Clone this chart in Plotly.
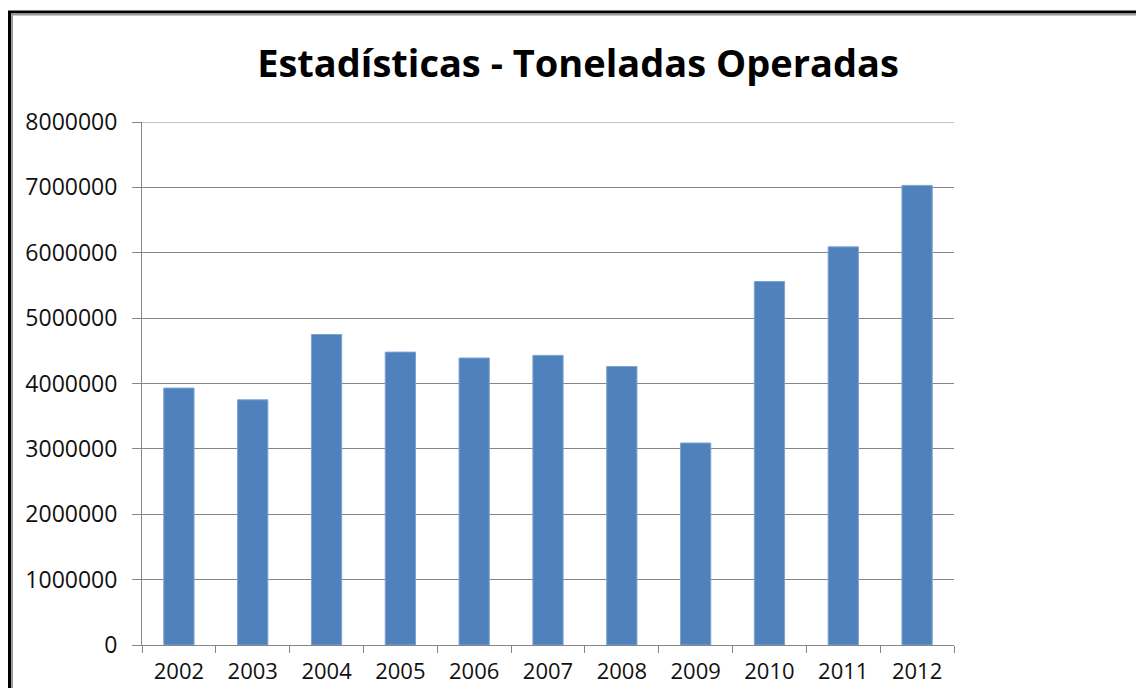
import plotly.graph_objects as go

# Toneladas operadas por año
years = ["2002", "2003", "2004", "2005", "2006", "2007", "2008", "2009", "2010", "2011", "2012"]
tons = [3930000, 3750000, 4750000, 4480000, 4390000, 4430000, 4260000, 3090000, 5560000, 6090000, 7030000]
y_ticks = [0, 1000000, 2000000, 3000000, 4000000, 5000000, 6000000, 7000000, 8000000]

W, H = 1136, 688
L, R, T, B = 142, 954, 122, 645  # plot area in pixels


def px_x(p):
    return (p - L) / (R - L)


def px_y(p):
    return (B - p) / (B - T)


fig = go.Figure(
    go.Bar(
        x=years,
        y=tons,
        marker=dict(color="#4F81BD", line=dict(color="#7EA3D0", width=1)),
        width=0.41,
    )
)

font_family = "Open Sans, Lato, sans-serif"

fig.update_layout(
    width=W,
    height=H,
    margin=dict(l=L, r=W - R, t=T, b=H - B, pad=0, autoexpand=False),
    paper_bgcolor="white",
    plot_bgcolor="white",
    showlegend=False,
    title=dict(
        text="<b>Estadísticas - Toneladas Operadas</b>",
        x=578 / W,
        xref="container",
        xanchor="center",
        y=1 - 64 / H,
        yref="container",
        yanchor="middle",
        font=dict(family=font_family, size=38, color="#000000"),
    ),
    font=dict(family=font_family, size=23, color="#111111"),
    bargap=0.59,
)

fig.update_xaxes(
    type="category",
    automargin=False,
    showline=True,
    linecolor="#868686",
    linewidth=1,
    ticks="outside",
    tickson="boundaries",
    ticklen=7,
    tickcolor="#868686",
    showgrid=False,
    ticklabelstandoff=7,
    tickfont=dict(family=font_family, size=22, color="#111111"),
)

fig.update_yaxes(
    automargin=False,
    range=[0, 8000000],
    tickvals=y_ticks,
    ticktext=[str(v) for v in y_ticks],
    showline=True,
    linecolor="#868686",
    linewidth=1,
    ticks="outside",
    ticklen=9,
    tickcolor="#868686",
    showgrid=True,
    gridcolor="#868686",
    gridwidth=1,
    zeroline=False,
    ticklabelstandoff=10,
    tickfont=dict(family=font_family, size=23, color="#111111"),
)

# top gridline sits on the edge of the plot area, so draw it explicitly
fig.add_shape(
    type="line", xref="paper", yref="y",
    x0=0, x1=1, y0=y_ticks[-1], y1=y_ticks[-1],
    line=dict(color="#868686", width=1), layer="below",
)

# chart frame: black edge with a soft grey inner line
fig.add_shape(
    type="rect", xref="paper", yref="paper",
    x0=px_x(9.5), x1=px_x(1150), y0=px_y(700), y1=px_y(12),
    line=dict(color="#000000", width=3), layer="above",
)
fig.add_shape(
    type="rect", xref="paper", yref="paper",
    x0=px_x(12), x1=px_x(1150), y0=px_y(700), y1=px_y(14.5),
    line=dict(color="#9a9a9a", width=2), layer="above",
)

fig.write_html("out.html")
